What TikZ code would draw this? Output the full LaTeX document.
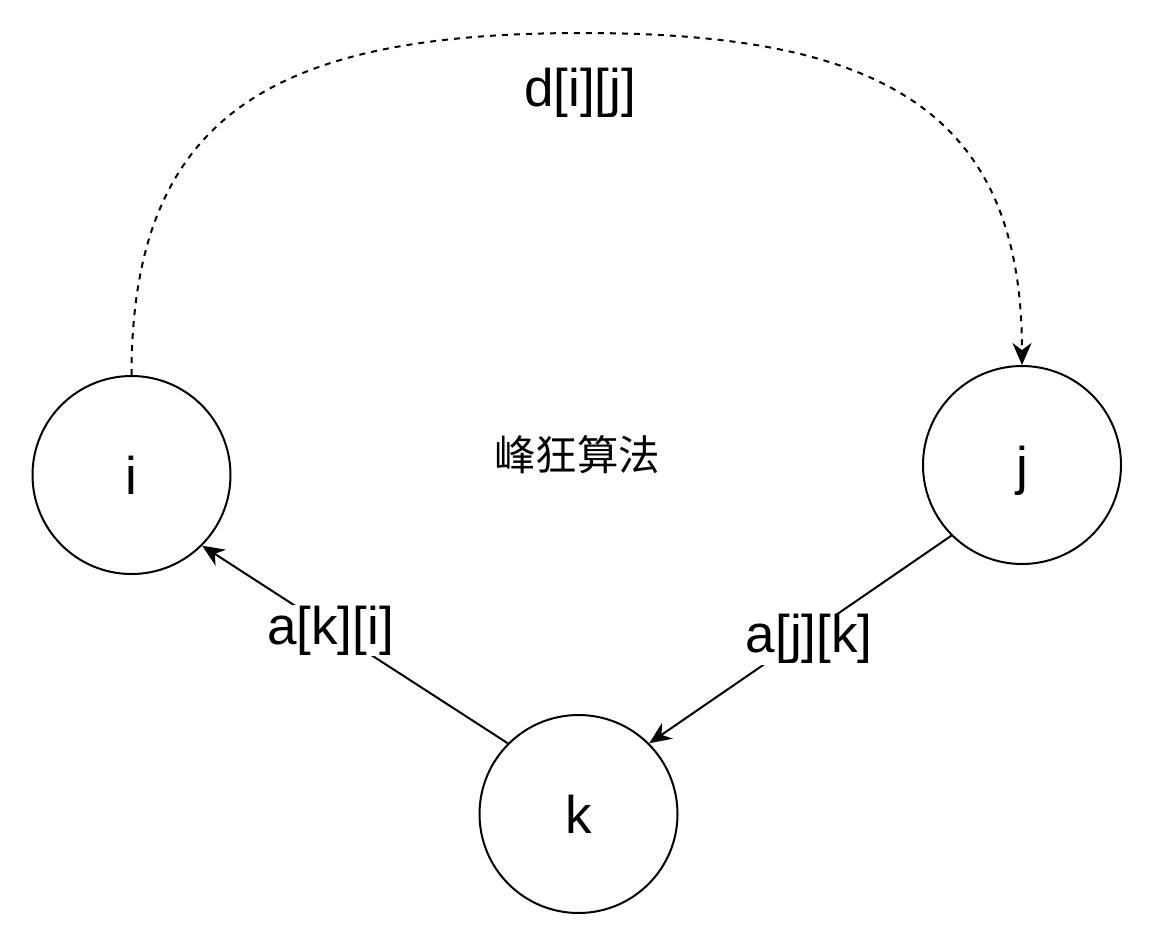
\documentclass[tikz,border=0pt]{standalone}
\usepackage{fontspec}
\setmainfont{Liberation Sans}
\newfontfamily\cjk{Noto Sans CJK SC}
\usetikzlibrary{arrows.meta}
\begin{document}
\begin{tikzpicture}[x=1pt,y=-1pt,
  vertex/.style={circle,draw,line width=2pt,minimum size=198pt,inner sep=0pt,
    font=\fontsize{53}{60}\selectfont,text height=38pt,text depth=0pt},
  edgelbl/.style={fill=white,inner sep=1pt,font=\fontsize{53}{60}\selectfont},
  conn/.style={line width=2pt,-{Stealth[length=22pt,width=19pt,inset=7pt]}},
  dashconn/.style={conn,dash pattern=on 6pt off 6pt},
]
\useasboundingbox (0,0) rectangle (1153,934);
\node[vertex] (i) at (131.5,475) {i};
\node[vertex] (j) at (1022,465) {j};
\node[vertex] (k) at (578.5,814) {k};
\node[font=\cjk\fontsize{41.5}{48}\selectfont] (title) at (577,455) {峰狂算法};
\coordinate (top) at (583,33);
\draw[dashconn] (i.north) .. controls (131.5,110) and (280,33) .. (top)
  .. controls (880,33) and (1022,110) .. (j.north);
\node[font=\fontsize{53}{60}\selectfont] (dij) at (580,92.5) {d[i][j]};
\draw[conn] (j.225) -- node[edgelbl,pos=0.47,yshift=-6pt] (ljk) {a[j][k]} (k.45);
\draw[conn] (k.135) -- node[edgelbl,pos=0.58,yshift=-2pt] (lki) {a[k][i]} (i.-45);
\end{tikzpicture}
\end{document}
